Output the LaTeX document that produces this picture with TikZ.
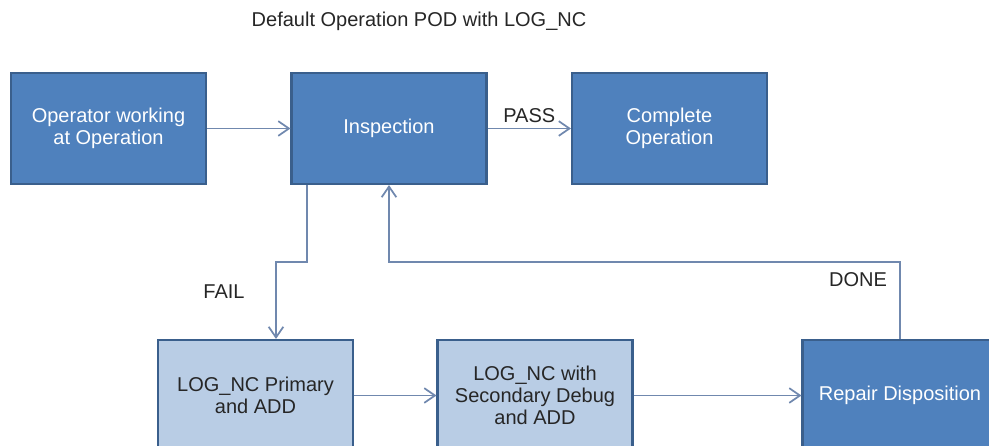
\documentclass[tikz,border=0pt]{standalone}
\usepackage{fontspec}
\setmainfont{Liberation Sans}
\usetikzlibrary{arrows.meta}
\definecolor{boxblue}{HTML}{4F81BD}
\definecolor{boxlight}{HTML}{B9CDE5}
\definecolor{boxline}{HTML}{3A5F8C}
\definecolor{edgeblue}{HTML}{7088AE}

\begin{document}
\begin{tikzpicture}[x=0.75pt,y=-0.75pt]

\tikzset{box/.style = {shape=rectangle,draw=boxline,line width=1.8pt,fill=boxblue,text=white,minimum width=146pt,minimum height=83pt,align=center,font=\fontsize{15}{16.5}\selectfont}}
\tikzset{lightbox/.style = {box,fill=boxlight,text=black!85}}
\tikzset{edge/.style = {->,> = {Straight Barb[length=8pt,width=11pt]},draw=edgeblue,line width=1.3pt}}
\tikzset{tag/.style = {font=\fontsize{15}{16.5}\selectfont,text=black!85}}
\clip (0,0) rectangle (989,446);
%title
\node[tag] (title) at (419,21) {Default Operation POD with LOG\_NC};
%boxes
\node[box] (1) at (108.5,128.5) {Operator working\\at Operation};
\node[box] (2) at (389,128.5) {Inspection};
\node[box] (3) at (669.5,128.5) {Complete\\Operation};
\node[lightbox] (4) at (255.5,395.5) {LOG\_NC Primary\\and ADD};
\node[lightbox] (5) at (535,395.5) {LOG\_NC with\\Secondary Debug\\and ADD};
\node[box] (6) at (900,395.5) {Repair Disposition};
%bends
\coordinate (f1) at (307,262);
\coordinate (f2) at (276,262);
\coordinate (r) at (389,262);
%edges
\draw [edge] (1) -- (2);
\draw [edge] (2) -- (3) node [midway, above, tag] (pass) {PASS};
\draw [edge] (2.south -| f1) -- (f1) -- (f2) -- (f2 |- 4.north);
\draw [edge] (4) -- (5);
\draw [edge] (5) -- (6);
\draw [edge] (6) |- (r) -- (2);
%labels
\node[tag] (fail) at (224,292) {FAIL};
\node[tag] (done) at (858,280) {DONE};

\end{tikzpicture}
\end{document}
